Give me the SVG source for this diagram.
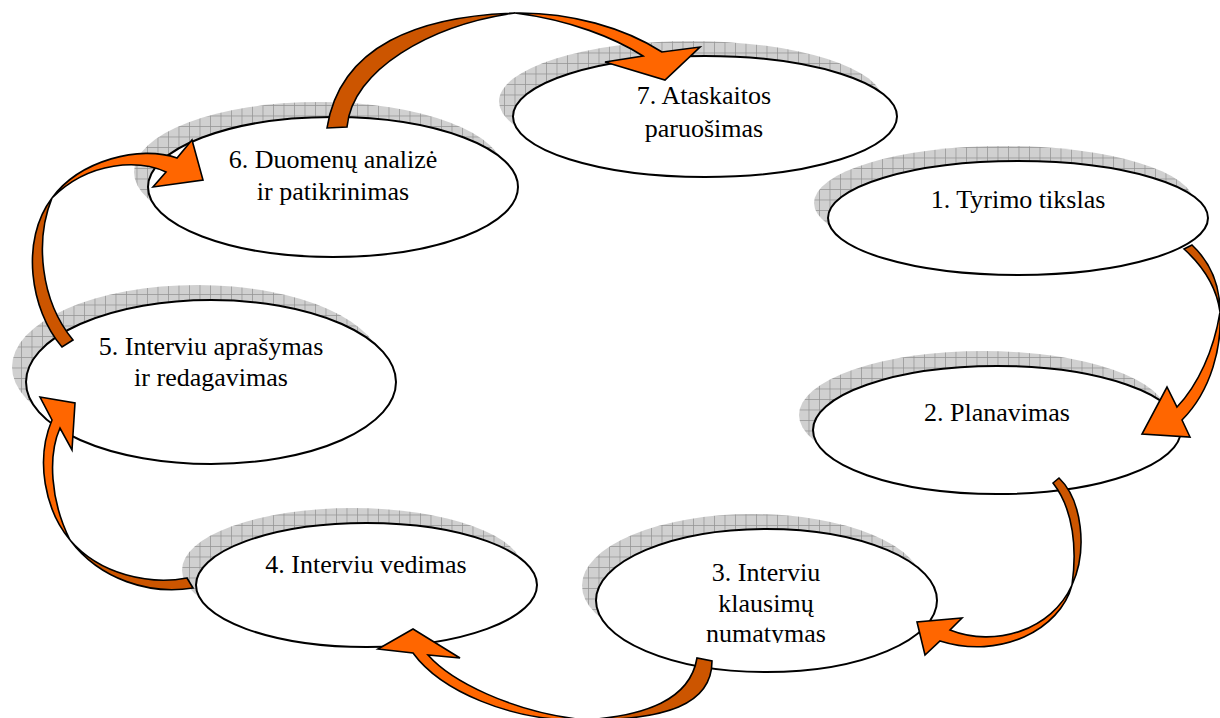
<svg xmlns="http://www.w3.org/2000/svg" width="1220" height="718" viewBox="0 0 1220 718">
  <defs>
    <!-- cross-hatched grey fill used for the drop shadows -->
    <pattern id="grid" patternUnits="userSpaceOnUse" width="10.5" height="10.5">
      <rect width="10.5" height="10.5" fill="#d0d0d0"/>
      <path d="M0 0.4 H10.5 M0.4 0 V10.5" stroke="#929292" stroke-width="0.8" fill="none"/>
    </pattern>
    <clipPath id="clip3">
      <rect x="560" y="520" width="420" height="123"/>
    </clipPath>
  </defs>
  <style>
    .shadow { fill: url(#grid); }
    .node { fill: #ffffff; stroke: #000000; stroke-width: 2; }
    .label { font-family: "Liberation Serif", "Times New Roman", serif; font-size: 26px; fill: #000000; text-anchor: middle; }
    .back { fill: #cc5500; stroke: #000000; stroke-width: 1.6; stroke-linejoin: miter; }
    .front { fill: #ff6600; stroke: #000000; stroke-width: 1.6; stroke-linejoin: miter; }
  </style>

  <rect width="1220" height="718" fill="#ffffff"/>

  <g id="node1">
    <ellipse class="shadow" cx="1004" cy="203" rx="190" ry="57"/>
    <ellipse class="node" cx="1018" cy="218" rx="190" ry="57"/>
    <text class="label" x="1018" y="208">1. Tyrimo tikslas</text>
  </g>

  <g id="node2">
    <ellipse class="shadow" cx="983" cy="415" rx="184" ry="64"/>
    <ellipse class="node" cx="997" cy="430" rx="184" ry="64"/>
    <text class="label" x="997" y="421">2. Planavimas</text>
  </g>

  <g id="node3">
    <ellipse class="shadow" cx="752.5" cy="585.5" rx="170.5" ry="71.5"/>
    <ellipse class="node" cx="766.5" cy="600.5" rx="170.5" ry="71.5"/>
    <g clip-path="url(#clip3)">
      <text class="label" x="766" y="581">3. Interviu</text>
      <text class="label" x="766" y="612">klausimų</text>
      <text class="label" x="766" y="642">numatymas</text>
    </g>
  </g>

  <g id="node4">
    <ellipse class="shadow" cx="352.5" cy="570" rx="170.5" ry="62"/>
    <ellipse class="node" cx="366.5" cy="585" rx="170.5" ry="62"/>
    <text class="label" x="366" y="573">4. Interviu vedimas</text>
  </g>

  <g id="node5">
    <ellipse class="shadow" cx="197" cy="367" rx="185" ry="82"/>
    <ellipse class="node" cx="211" cy="382" rx="185" ry="82"/>
    <text class="label" x="211" y="355">5. Interviu aprašymas</text>
    <text class="label" x="211" y="386">ir redagavimas</text>
  </g>

  <g id="node6">
    <ellipse class="shadow" cx="319" cy="172" rx="185" ry="70"/>
    <ellipse class="node" cx="333" cy="187" rx="185" ry="70"/>
    <text class="label" x="333" y="168">6. Duomenų analizė</text>
    <text class="label" x="333" y="200">ir patikrinimas</text>
  </g>

  <g id="node7">
    <ellipse class="shadow" cx="691" cy="101.5" rx="192" ry="60.5"/>
    <ellipse class="node" cx="705" cy="116.5" rx="192" ry="60.5"/>
    <text class="label" x="704" y="104">7. Ataskaitos</text>
    <text class="label" x="704" y="137">paruošimas</text>
  </g>

  <!-- curved ribbon arrows: dark underside at the tail, bright face toward the head -->
  <g id="connectors">
    <!-- 1 -> 2 -->
    <path class="back" d="M1192 245 C1210 262 1220 285 1220 312 C1217 290 1205 268 1184 249 Z"/>
    <path class="front" d="M1220 312 C1222 345 1212 390 1182 420 L1190 437 L1142 434 L1167 387 L1177 407 C1198 385 1214 350 1220 312 Z"/>

    <!-- 2 -> 3 -->
    <path class="back" d="M1059 478 C1082 500 1088 550 1072 585 C1077 550 1074 510 1053 483 Z"/>
    <path class="front" d="M1072 585 C1060 630 1000 660 940 641 L925 655 L917 622 L962 618 L950 630 C995 648 1052 630 1072 585 Z"/>

    <!-- 3 -> 4 -->
    <path class="back" d="M712 661 C712 705 665 720 585 720 C645 716 690 700 697 658 Z"/>
    <path class="front" d="M585 720 C510 722 440 690 413 653 L378 649 L413 629 L460 658 L428 655 C450 680 510 712 585 720 Z"/>

    <!-- 4 -> 5 -->
    <path class="back" d="M193 588 C150 595 100 580 70 540 C100 575 150 585 187 578 Z"/>
    <path class="front" d="M70 540 C45 510 35 460 52 420 L40 397 L75 403 L72 450 L60 428 C48 455 50 500 70 540 Z"/>

    <!-- 5 -> 6 -->
    <path class="back" d="M62 347 C30 310 20 240 52 198 C35 240 40 300 73 340 Z"/>
    <path class="front" d="M52 198 C80 160 140 145 177 158 L192 140 L203 180 L153 187 L166 172 C140 160 90 160 52 198 Z"/>

    <!-- 6 -> 7 -->
    <path class="back" d="M327 128 C340 45 420 16 515 13 C430 25 352 70 347 127 Z"/>
    <path class="front" d="M515 13 C570 12 625 28 662 52 L700 47 L665 80 L605 62 L643 56 C615 38 570 20 515 13 Z"/>
  </g>
</svg>
